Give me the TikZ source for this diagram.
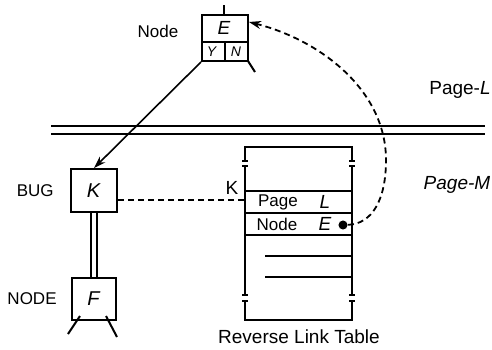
\documentclass[tikz,border=0pt]{standalone}
\usepackage{fontspec}
\setmainfont{Liberation Sans}
\usetikzlibrary{positioning,arrows.meta}

\begin{document}
\begin{tikzpicture}[
    x=0.5pt, y=-0.5pt,
    box/.style={draw, line width=1pt, inner sep=0pt}, % Style for node boxes
    lbl/.style={inner sep=0pt, font=\fontsize{8.5}{10}\selectfont},
    big/.style={inner sep=0pt, font=\fontsize{9.5}{11}\selectfont},
    link/.style={line width=0.9pt, dash pattern=on 3pt off 2pt},
    edge/.style={line width=1pt}
]
\useasboundingbox (0,0) rectangle (492,349);

% Page boundary
\draw[line width=0.7pt] (51,126) -- (485,126);
\draw[line width=0.7pt] (51,134) -- (485,134);
\node[big] (pageL) at (460,90) {Page-\textit{L}};
\node[big] (pageM) at (457,185) {\textit{Page-M}};

% Node E on page L
\node[box, minimum width=23pt, minimum height=23pt] (nodeE) at (225,38) {};
\draw[line width=0.8pt] (202,42) -- (248,42);
\draw[line width=0.8pt] (225,42) -- (225,61);
\node[big] at (224,28) {\textit{E}};
\node[inner sep=0pt, font=\fontsize{7}{8}\selectfont] at (212,52) {\textit{Y}};
\node[inner sep=0pt, font=\fontsize{7}{8}\selectfont] at (236,52) {\textit{N}};
\node[lbl] (nameE) at (158,31) {Node};
\draw[edge] (224,5) -- (224,15);
\draw[edge] (248,61) -- (255,72);

% Bug K and node F on page M
\node[box, minimum width=23pt, minimum height=21.5pt, font=\fontsize{10}{12}\selectfont] (bugK) at (94,190.5) {\textit{K}};
\node[lbl, left=8pt of bugK] (nameK) {BUG};
\node[box, minimum width=22pt, minimum height=21pt, font=\fontsize{10}{12}\selectfont] (nodeF) at (94,299) {\textit{F}};
\node[lbl, left=7pt of nodeF] (nameF) {NODE};
\draw[edge] (80,316) -- (68,334);
\draw[edge] (106,316) -- (117,337);

\draw[line width=0.8pt, -{Stealth[length=6pt,width=4pt]}] (nodeE.south west) -- (bugK.north);
\draw[double, line width=0.6pt, double distance=2.4pt] (bugK.south) -- (nodeF.north);

% Reverse link table
\draw[edge] (245,161) -- (245,147) -- (352,147) -- (352,161);
\draw[edge] (245,166) -- (245,295);
\draw[edge] (352,166) -- (352,295);
\draw[edge] (245,301) -- (245,320) -- (352,320) -- (352,301);
\foreach \x in {245,352}
    \foreach \y in {161,166,295,301}
        \draw[edge] (\x-3,\y) -- (\x+3,\y);
\foreach \y in {191,213,235}
    \draw[line width=0.7pt] (245,\y) -- (352,\y);
\foreach \y in {256,277}
    \draw[line width=0.7pt] (265,\y) -- (352,\y);
\node[big] (rowK) at (232,188) {K};
\node[lbl] (pageRow) at (278,202) {Page};
\node[big] at (325,202) {\textit{L}};
\node[lbl] (nodeRow) at (277,224) {Node};
\node[big] at (325,224) {\textit{E}};
\node[big] (tabcap) at (299,337) {Reverse Link Table};

% Links
\coordinate (kslot) at (245,200);
\draw[link] (bugK.east |- kslot) -- (kslot);
\node[circle, fill, inner sep=1.6pt] (dotE) at (343,225) {};
\draw[link, -{Stealth[length=6pt,width=4pt]}] (dotE) .. controls (372,224) and (386,200) .. (386,160)
    .. controls (386,90) and (320,40) .. ([yshift=-4pt]nodeE.north east);

\end{tikzpicture}
\end{document}
